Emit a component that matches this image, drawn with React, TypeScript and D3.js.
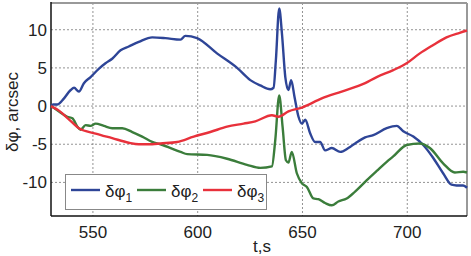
import * as d3 from "d3";

const W = 471;
const H = 256;
const m = { left: 51, right: 4, top: 3, bottom: 40 };

const xTicks = [550, 600, 650, 700];
const yTicks = [-10, -5, 0, 5, 10];

// δφ1 (blue)
const phi1: [number, number][] = [
  [530, 0], [531, 0.2], [533, 0.2], [535.6, 0.8], [539.4, 2.1], [541, 2.4], [543.3, 1.9],
  [545.7, 3.0], [548.9, 3.8], [552.9, 4.9], [556, 5.6], [559.2, 6.2], [563.2, 7.3], [567.1, 7.8],
  [571.9, 8.4], [578.3, 9.0], [584.6, 8.9], [591.8, 8.7], [594.1, 9.2], [599.7, 8.9], [609.2, 6.9],
  [618.8, 5.0], [625.1, 3.4], [629.9, 2.7], [634.6, 2.2], [636.2, 2.4], [637.3, 6.0], [638.9, 12.8],
  [640.2, 9.5], [641.8, 3.8], [643.3, 2.1], [644.6, 3.4], [646.2, 1.2], [648.1, -1.4], [649.7, -2.3],
  [651.3, -1.8], [653.7, -3.6], [656, -4.7], [658.4, -4.7], [660.8, -5.8], [664, -5.5], [668, -6.0],
  [671.9, -5.5], [675.1, -4.9], [679.9, -4.1], [683.8, -3.8], [690.2, -2.9], [695, -2.6], [698.1, -3.3],
  [702.9, -4.0], [707.6, -5.1], [712.4, -6.8], [717.1, -8.8], [721.1, -10.3], [723.5, -10.4],
  [726.7, -10.4], [728.5, -10.7],
];

// δφ2 (green)
const phi2: [number, number][] = [
  [530, 0], [533.8, -0.7], [537.8, -1.4], [540.2, -1.6], [542.6, -2.7], [544.1, -3.1], [546.5, -2.5],
  [548.9, -2.6], [551.3, -2.3], [555.2, -2.6], [559.2, -2.9], [564, -2.9], [568.8, -3.4], [573.5, -4.0],
  [578.3, -4.7], [582.2, -5.0], [591.8, -6.0], [595, -6.3], [604.5, -6.4], [614, -6.9], [623.5, -7.7],
  [629.9, -8.1], [635.4, -7.9], [637, -4.5], [638.9, 1.4], [640.5, -2.7], [642.1, -7.1], [643.3, -7.4],
  [644.9, -6.0], [647.3, -8.8], [649.7, -10.1], [652.1, -10.6], [655.2, -12.1], [657.6, -12.2],
  [660.8, -12.7], [664, -13.0], [667.1, -12.5], [671.1, -12.1], [675.1, -11.2], [680.7, -9.7],
  [685.4, -8.5], [690.2, -7.3], [693.3, -6.6], [699.7, -5.1], [706, -4.9], [710.8, -5.5],
  [717.1, -7.5], [722.7, -8.7], [726.7, -8.6], [728.5, -8.7],
];

// δφ3 (red)
const phi3: [number, number][] = [
  [530, 0], [533.8, -0.6], [538, -1.6], [543.3, -2.9], [551.3, -3.6], [559.2, -4.2], [567.1, -4.8],
  [571.9, -5.0], [578.3, -5.0], [582.2, -4.9], [590.2, -4.7], [598.1, -4.0], [606, -3.4], [614, -2.7],
  [621.9, -2.3], [627.5, -2.0], [635.4, -1.2], [638.6, -1.4], [643.3, -0.7], [649.7, -0.2],
  [659.2, 1.0], [668.7, 1.9], [679.9, 3.0], [685.4, 3.8], [693.3, 4.7], [699.7, 5.6], [706, 6.9],
  [712.4, 8.0], [718.7, 9.0], [725, 9.6], [728.5, 9.9],
];

const series = [
  { name: "1", data: phi1, color: "#2e4597" },
  { name: "2", data: phi2, color: "#3b7d3b" },
  { name: "3", data: phi3, color: "#e8313b" },
];

const font = "Liberation Sans, Arial, sans-serif";

export default function App() {
  const x = d3.scaleLinear().domain([530, 728.5]).range([m.left, W - m.right]);
  const y = d3.scaleLinear().domain([-14.4, 13.5]).range([H - m.bottom, m.top]);
  const line = d3
    .line<[number, number]>()
    .x((d) => x(d[0]))
    .y((d) => y(d[1]))
    .curve(d3.curveMonotoneX);

  const x0 = m.left;
  const x1 = W - m.right;
  const y0 = m.top;
  const y1 = H - m.bottom;

  const legX = 65;
  const legStep = 66;

  return (
    <svg
      width={W}
      height={H}
      style={{ position: "absolute", left: 0, top: 0, background: "#fff" }}
      fontFamily={font}
    >
      {/* grid */}
      {xTicks.map((t) => (
        <line key={"gx" + t} x1={x(t)} x2={x(t)} y1={y0} y2={y1} stroke="#777" strokeWidth={0.8} strokeDasharray="2,2" />
      ))}
      {yTicks.map((t) => (
        <line key={"gy" + t} x1={x0} x2={x1} y1={y(t)} y2={y(t)} stroke="#777" strokeWidth={0.8} strokeDasharray="2,2" />
      ))}

      {/* frame */}
      <line x1={x0} x2={x1} y1={y0} y2={y0} stroke="#999" strokeWidth={2} />
      <line x1={x1} x2={x1} y1={y0} y2={y1} stroke="#999" strokeWidth={2} />
      <line x1={x0} x2={x0} y1={y0 - 1} y2={y1} stroke="#111" strokeWidth={1.5} />
      <line x1={x0} x2={x1} y1={y1} y2={y1} stroke="#111" strokeWidth={1.5} />

      {/* series */}
      {series.map((s) => (
        <path key={s.name} d={line(s.data) || ""} fill="none" stroke={s.color} strokeWidth={2.4} strokeLinejoin="round" />
      ))}

      {/* tick labels */}
      {xTicks.map((t) => (
        <text key={"tx" + t} x={x(t)} y={238} textAnchor="middle" fontSize={17} fill="#222">
          {t}
        </text>
      ))}
      {yTicks.map((t) => (
        <text key={"ty" + t} x={47} y={y(t) + 6} textAnchor="end" fontSize={17} fill="#222">
          {t}
        </text>
      ))}

      {/* axis labels */}
      <text x={262} y={252} textAnchor="middle" fontSize={17} fill="#222">t,s</text>
      <text transform="translate(18,112) rotate(-90)" textAnchor="middle" fontSize={17} fill="#222">
        δφ, arcsec
      </text>

      {/* legend */}
      <rect x={legX + 0.5} y={174.5} width={201} height={35} fill="#fff" stroke="#888" strokeWidth={1} />
      {series.map((s, i) => {
        const lx = legX + 6 + i * legStep;
        return (
          <g key={"lg" + s.name}>
            <line x1={lx} x2={lx + 29} y1={190} y2={190} stroke={s.color} strokeWidth={2.4} />
            <text x={lx + 34} y={197} fontSize={17} fill="#222">
              δφ
              <tspan fontSize={12} dy={5}>{s.name}</tspan>
            </text>
          </g>
        );
      })}
    </svg>
  );
}
